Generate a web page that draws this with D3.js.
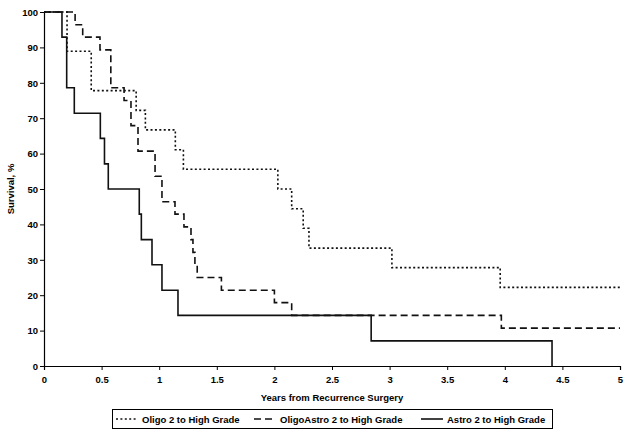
<!DOCTYPE html>
<html>
<head>
<meta charset="utf-8">
<script src="https://cdn.jsdelivr.net/npm/d3@7"></script>
<style>
  body { margin: 0; background: #fff; }
  svg { display: block; font-family: "Liberation Sans", Arial, sans-serif; }
</style>
</head>
<body>
<div id="chart"></div>
<script>
// ---- data ----
const oligoTimes = [0, 0.2, 0.41, 0.8, 0.88, 1.14, 1.21, 2.03, 2.15, 2.25, 2.30, 3.02, 3.96, 5];
const oligoSurv  = [100, 88.9, 77.8, 72.2, 66.7, 61.1, 55.6, 50, 44.4, 38.9, 33.3, 27.8, 22.2, 22.2];

const oligoAstroTimes = [0, 0.27, 0.336, 0.486, 0.58, 0.695, 0.755, 0.816, 0.964, 1.024, 1.137, 1.215, 1.276, 1.293, 1.31, 1.33, 1.54, 2.0, 2.15, 3.97, 5];
const oligoAstroSurv  = [100, 96.4, 92.9, 89.3, 78.6, 75, 67.9, 60.7, 53.6, 46.4, 42.9, 39.3, 35.7, 32.1, 28.6, 25, 21.4, 17.9, 14.3, 10.7, 10.7];

const astroTimes = [0, 0.156, 0.197, 0.263, 0.489, 0.525, 0.558, 0.827, 0.845, 0.9375, 1.024, 1.163, 2.84, 4.41];
const astroSurv  = [100, 92.9, 78.6, 71.4, 64.3, 57.1, 50, 42.9, 35.7, 28.6, 21.4, 14.3, 7.1, 0];

const seriesNames = ["Oligo 2 to High Grade", "OligoAstro 2 to High Grade", "Astro 2 to High Grade"];
const xTicks = [0, 0.5, 1, 1.5, 2, 2.5, 3, 3.5, 4, 4.5, 5];
const yTicks = [0, 10, 20, 30, 40, 50, 60, 70, 80, 90, 100];
const xTitle = "Years from Recurrence Surgery";
const yTitle = "Survival, %";

// ---- layout ----
const W = 632, H = 437;
const FS = 9.5;
const svg = d3.select("#chart").append("svg").attr("width", W).attr("height", H);

const x = d3.scaleLinear().domain([0, 5]).range([44, 620]);
const y = d3.scaleLinear().domain([0, 100]).range([366, 12]);

const styles = [
  { dash: "2,2.4", width: 1.6 },
  { dash: "7,4", width: 1.6 },
  { dash: null, width: 1.6 }
];

const series = [
  oligoTimes.map((t, i) => [t, oligoSurv[i]]),
  oligoAstroTimes.map((t, i) => [t, oligoAstroSurv[i]]),
  astroTimes.map((t, i) => [t, astroSurv[i]])
];

// axes
const xAxis = d3.axisBottom(x).tickValues(xTicks).tickSize(4).tickFormat(d => d3.format("")(d));
const yAxis = d3.axisLeft(y).tickValues(yTicks).tickSize(4);

const gx = svg.append("g").attr("transform", `translate(0,${y(0)})`).call(xAxis);
const gy = svg.append("g").attr("transform", `translate(${x(0)},0)`).call(yAxis);

[gx, gy].forEach(g => {
  g.select(".domain").attr("stroke", "#000").attr("stroke-width", 1.2);
  g.selectAll(".tick line").attr("stroke", "#000");
  g.selectAll(".tick text").attr("font-size", FS).attr("font-weight", "bold")
    .attr("font-family", "Liberation Sans, Arial, sans-serif").attr("fill", "#000");
});
gx.selectAll(".tick text").attr("dy", "1.05em");
gy.selectAll(".tick text").attr("x", -6).attr("dy", "0.35em");

// axis titles
svg.append("text").attr("x", 332).attr("y", 401).attr("text-anchor", "middle")
  .attr("font-size", FS).attr("font-weight", "bold").text(xTitle);
svg.append("text").attr("transform", `translate(14,${y(50)}) rotate(-90)`)
  .attr("text-anchor", "middle").attr("font-size", FS).attr("font-weight", "bold").text(yTitle);

// lines
const line = d3.line().x(d => x(d[0])).y(d => y(d[1])).curve(d3.curveStepAfter);
series.forEach((s, i) => {
  svg.append("path").datum(s).attr("d", line)
    .attr("fill", "none").attr("stroke", "#111")
    .attr("stroke-width", styles[i].width)
    .attr("stroke-dasharray", styles[i].dash);
});

// legend
const lg = svg.append("g");
lg.append("rect").attr("x", 112.5).attr("y", 409.5).attr("width", 440).attr("height", 19)
  .attr("fill", "#fff").attr("stroke", "#000").attr("stroke-width", 1);
const legendX = [116, 254, 421];
seriesNames.forEach((n, i) => {
  lg.append("line").attr("x1", legendX[i]).attr("x2", legendX[i] + 22)
    .attr("y1", 419).attr("y2", 419).attr("stroke", "#111")
    .attr("stroke-width", styles[i].width).attr("stroke-dasharray", styles[i].dash);
  lg.append("text").attr("x", legendX[i] + 26).attr("y", 422.5)
    .attr("font-size", FS).attr("font-weight", "bold").text(n);
});
</script>
</body>
</html>
